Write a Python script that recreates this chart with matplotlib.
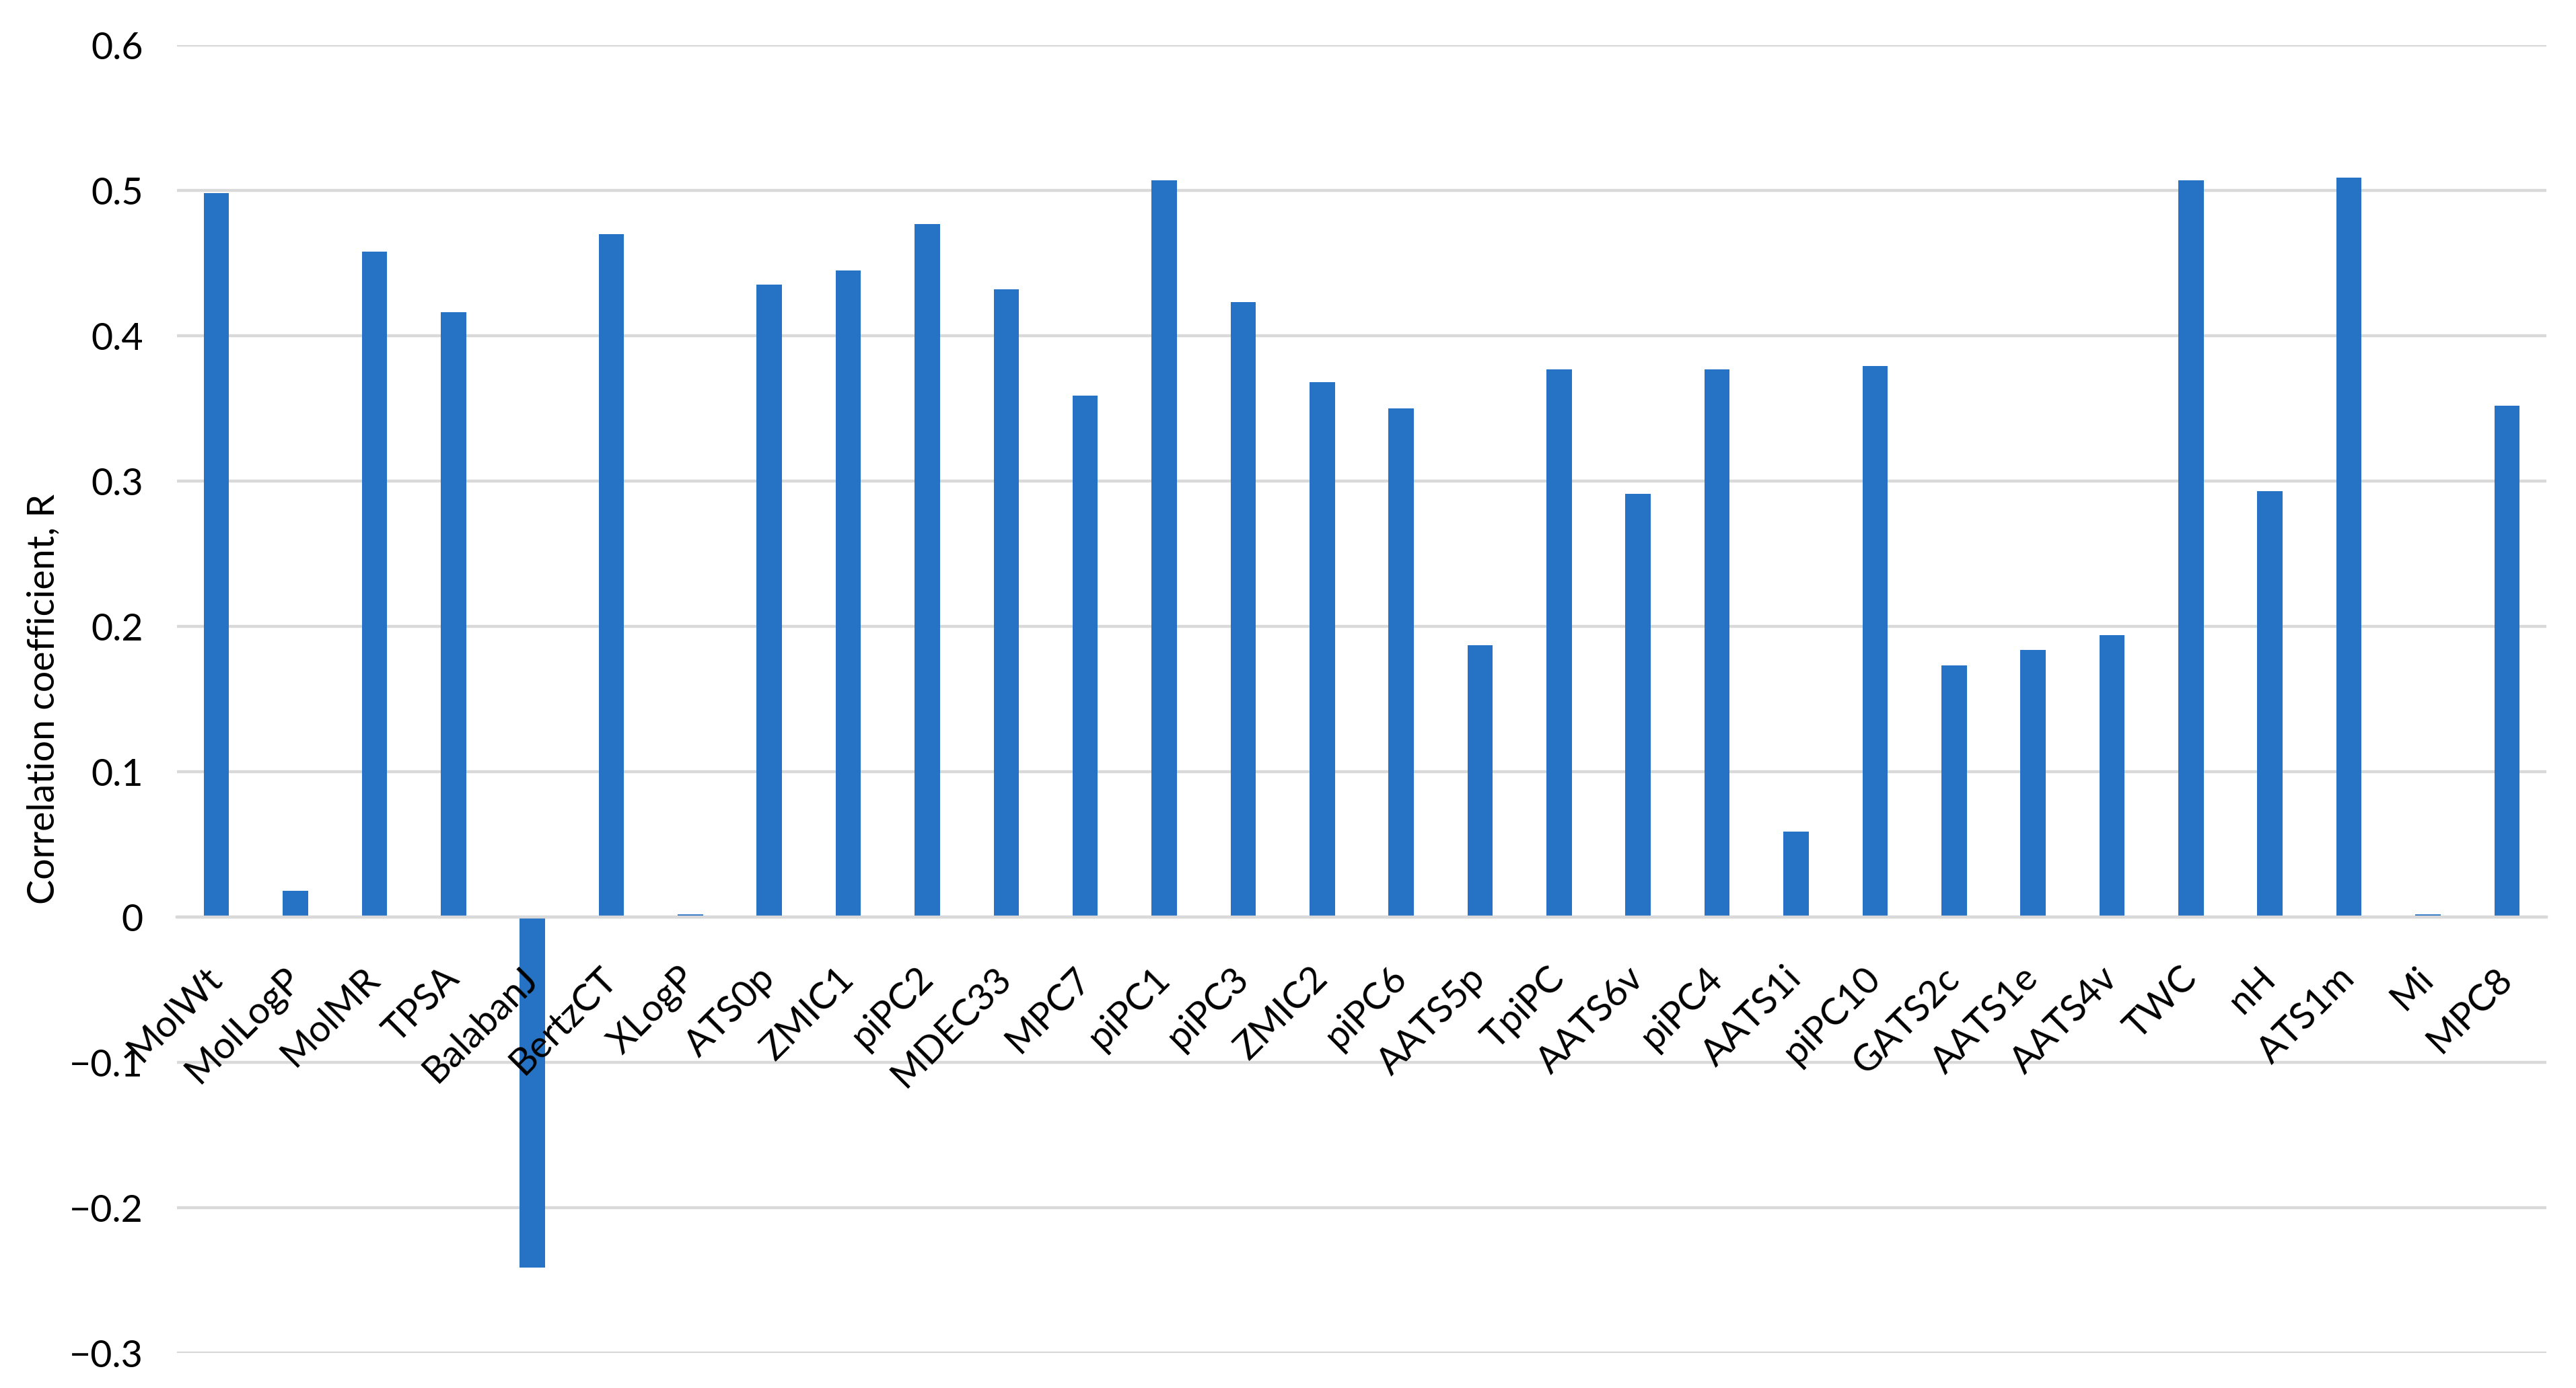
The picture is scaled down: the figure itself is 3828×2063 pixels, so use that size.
import matplotlib.pyplot as plt
import matplotlib.transforms as mtransforms
import numpy as np

descriptors = ['MolWt', 'MolLogP', 'MolMR', 'TPSA', 'BalabanJ', 'BertzCT', 'XLogP',
               'ATS0p', 'ZMIC1', 'piPC2', 'MDEC33', 'MPC7', 'piPC1', 'piPC3', 'ZMIC2',
               'piPC6', 'AATS5p', 'TpiPC', 'AATS6v', 'piPC4', 'AATS1i', 'piPC10',
               'GATS2c', 'AATS1e', 'AATS4v', 'TWC', 'nH', 'ATS1m', 'Mi', 'MPC8']
r_values = [0.498, 0.018, 0.458, 0.416, -0.241, 0.470, 0.002,
            0.435, 0.445, 0.477, 0.432, 0.359, 0.507, 0.423, 0.368,
            0.350, 0.187, 0.377, 0.291, 0.377, 0.059, 0.379,
            0.173, 0.184, 0.194, 0.507, 0.293, 0.509, 0.002, 0.352]
y_ticks = [-0.3, -0.2, -0.1, 0, 0.1, 0.2, 0.3, 0.4, 0.5, 0.6]

plt.rcParams['font.family'] = ['Lato', 'DejaVu Sans']

fig = plt.figure(figsize=(19.14, 10.315), dpi=200)
ax = fig.add_axes([0.0687, 0.0252, 0.9198, 0.9423])

x = np.arange(len(descriptors))
ax.bar(x, r_values, width=0.32, color='#2672C4', zorder=1)

# gridlines by hand so they stay behind the bars while tick labels go on top
for t in y_ticks:
    ax.axhline(t, color='#D9D9D9', linewidth=1.6, zorder=0.5)

ax.set_xlim(-0.5, len(descriptors) - 0.5)
ax.set_ylim(-0.3, 0.6)
ax.set_yticks(y_ticks)
ax.set_yticklabels([('%g' % t).replace('-', '\u2212') for t in y_ticks])
ax.set_axisbelow(False)

for side in ['top', 'right', 'left']:
    ax.spines[side].set_visible(False)
ax.spines['bottom'].set_position(('data', 0))
ax.spines['bottom'].set_color('#D9D9D9')
ax.spines['bottom'].set_linewidth(1.6)

ax.set_xticks(x)
ax.set_xticklabels(descriptors, rotation=45, ha='right', va='center',
                   rotation_mode='anchor', fontsize=20)
# nudge the rotated labels a bit to the right, like the original
nudge = mtransforms.ScaledTranslation(6 / 72, 0, fig.dpi_scale_trans)
for lbl in ax.get_xticklabels():
    lbl.set_transform(lbl.get_transform() + nudge)
ax.tick_params(axis='x', length=0, pad=30)
ax.tick_params(axis='y', length=0, pad=18, labelsize=20)

ax.set_ylabel('Correlation coefficient, R', fontsize=20)
ax.yaxis.set_label_coords(-0.049, 0.5)

fig.savefig('out.png', dpi=200, facecolor='white')
